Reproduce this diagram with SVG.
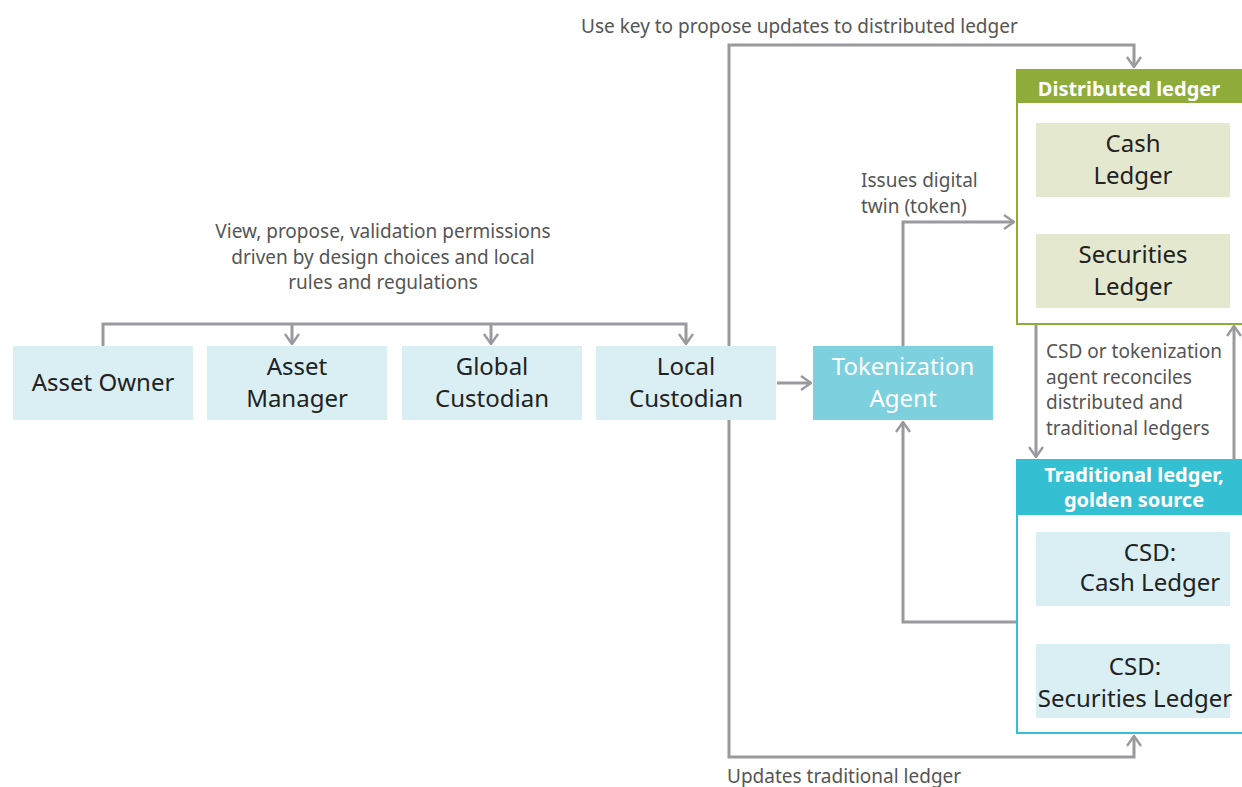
<svg xmlns="http://www.w3.org/2000/svg" width="1242" height="787" viewBox="0 0 1242 787">
<defs>
<marker id="arr" viewBox="0 0 12 16" refX="11" refY="8" markerWidth="12" markerHeight="16" markerUnits="userSpaceOnUse" orient="auto">
<path d="M1,1 L11,8 L1,15" fill="none" stroke="#9a9a9e" stroke-width="2.4"/>
</marker>
<style>
.c{fill:none;stroke:#9a9a9e;stroke-width:3}
.n{fill:#d9eff4}
.g{fill:#e3e8cf}
.t{font-family:"Noto Sans","Open Sans",sans-serif;font-size:24px;fill:#222;text-anchor:middle}
.lb{font-family:"Noto Sans","Open Sans",sans-serif;font-size:19px;fill:#555}
.h{font-family:"Noto Sans","Open Sans",sans-serif;font-size:20px;font-weight:bold;fill:#fff;text-anchor:middle}
</style>
</defs>
<rect width="1242" height="787" fill="#fff"/>
<g id="connectors">
<path class="c" d="M103,346 V324 H686 V344" marker-end="url(#arr)"/>
<path class="c" d="M292,324 V344" marker-end="url(#arr)"/>
<path class="c" d="M491,324 V344" marker-end="url(#arr)"/>
<path class="c" d="M729,346 V45 H1134 V67" marker-end="url(#arr)"/>
<path class="c" d="M729,420 V757 H1134 V736" marker-end="url(#arr)"/>
<path class="c" d="M777,383 H811" marker-end="url(#arr)"/>
<path class="c" d="M903,346 V222 H1014" marker-end="url(#arr)"/>
<path class="c" d="M1016,622 H903 V422" marker-end="url(#arr)"/>
<path class="c" d="M1036,325 V457" marker-end="url(#arr)"/>
<path class="c" d="M1234,459 V326" marker-end="url(#arr)"/>
</g>
<g id="labels">
<text class="lb" x="581" y="33">Use key to propose updates to distributed ledger</text>
<text class="lb" x="727" y="783">Updates traditional ledger</text>
<text class="lb" x="861" y="187">Issues digital</text>
<text class="lb" x="861" y="213">twin (token)</text>
<text class="lb" x="383" y="238" text-anchor="middle">View, propose, validation permissions</text>
<text class="lb" x="383" y="264" text-anchor="middle">driven by design choices and local</text>
<text class="lb" x="383" y="289" text-anchor="middle">rules and regulations</text>
<text class="lb" x="1046" y="358">CSD or tokenization</text>
<text class="lb" x="1046" y="384">agent reconciles</text>
<text class="lb" x="1046" y="409">distributed and</text>
<text class="lb" x="1046" y="435">traditional ledgers</text>
</g>
<g id="asset-owner"><rect class="n" x="13" y="346" width="180" height="74"/><text class="t" x="103" y="391">Asset Owner</text></g>
<g id="asset-manager"><rect class="n" x="207" y="346" width="180" height="74"/><text class="t" x="297" y="375">Asset</text><text class="t" x="297" y="407">Manager</text></g>
<g id="global-custodian"><rect class="n" x="402" y="346" width="180" height="74"/><text class="t" x="492" y="375">Global</text><text class="t" x="492" y="407">Custodian</text></g>
<g id="local-custodian"><rect class="n" x="596" y="346" width="180" height="74"/><text class="t" x="686" y="375">Local</text><text class="t" x="686" y="407">Custodian</text></g>
<g id="tokenization-agent"><rect x="813" y="346" width="180" height="74" fill="#7dd0de"/><text class="t" x="903" y="375" style="fill:#fff">Tokenization</text><text class="t" x="903" y="407" style="fill:#fff">Agent</text></g>
<g id="distributed-ledger">
<rect x="1017" y="70" width="240" height="254" fill="#fff" stroke="#8fac3a" stroke-width="2"/>
<rect x="1016" y="69" width="230" height="34" fill="#8fac3a"/>
<text class="h" x="1129" y="96">Distributed ledger</text>
</g>
<g id="cash-ledger"><rect class="g" x="1036" y="123" width="194" height="74"/><text class="t" x="1133" y="152">Cash</text><text class="t" x="1133" y="184">Ledger</text></g>
<g id="securities-ledger"><rect class="g" x="1036" y="234" width="194" height="74"/><text class="t" x="1133" y="263">Securities</text><text class="t" x="1133" y="295">Ledger</text></g>
<g id="traditional-ledger">
<rect x="1017" y="460" width="240" height="273" fill="#fff" stroke="#35bfd3" stroke-width="2"/>
<rect x="1016" y="459" width="230" height="56" fill="#35bfd3"/>
<text class="h" x="1134" y="482">Traditional ledger,</text>
<text class="h" x="1134" y="507">golden source</text>
</g>
<g id="csd-cash-ledger"><rect class="n" x="1036" y="532" width="194" height="74"/><text class="t" x="1150" y="561">CSD:</text><text class="t" x="1150" y="591">Cash Ledger</text></g>
<g id="csd-securities-ledger"><rect class="n" x="1036" y="644" width="194" height="74"/><text class="t" x="1135" y="675">CSD:</text><text class="t" x="1135" y="707">Securities Ledger</text></g>
</svg>
